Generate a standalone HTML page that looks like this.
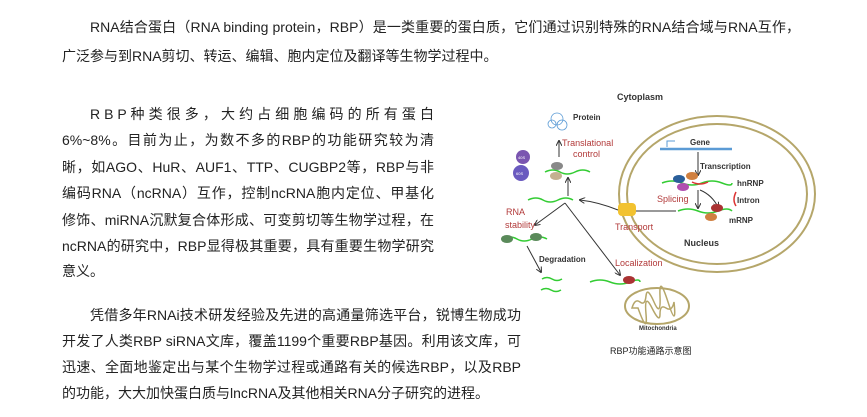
<!DOCTYPE html>
<html><head><meta charset="utf-8"><style>
body{margin:0;width:867px;height:417px;background:#fff;overflow:hidden;position:relative;font-family:"Liberation Sans","Noto Sans CJK SC",sans-serif;color:#222;}
.l{position:absolute;font-size:14px;white-space:nowrap;line-height:16px;}
.j{white-space:normal;text-align:justify;text-align-last:justify;height:16px;overflow:hidden}
svg{position:absolute;left:0;top:0}
</style></head><body>
<div class="l j" style="left:90px;top:19px;width:710px">RNA结合蛋白（RNA binding protein，RBP）是一类重要的蛋白质，它们通过识别特殊的RNA结合域与RNA互作，</div>
<div class="l" style="left:62px;top:48px">广泛参与到RNA剪切、转运、编辑、胞内定位及翻译等生物学过程中。</div>
<div class="l j" style="left:90px;top:106px;width:344px">R B P 种 类 很 多 ， 大 约 占 细 胞 编 码 的 所 有 蛋 白 的</div>
<div class="l j" style="left:62px;top:132px;width:372px">6%~8%。目前为止，为数不多的RBP的功能研究较为清</div>
<div class="l j" style="left:62px;top:159px;width:372px">晰，如AGO、HuR、AUF1、TTP、CUGBP2等，RBP与非</div>
<div class="l j" style="left:62px;top:185px;width:372px">编码RNA（ncRNA）互作，控制ncRNA胞内定位、甲基化</div>
<div class="l j" style="left:62px;top:212px;width:372px">修饰、miRNA沉默复合体形成、可变剪切等生物学过程，在</div>
<div class="l j" style="left:62px;top:238px;width:372px">ncRNA的研究中，RBP显得极其重要，具有重要生物学研究</div>
<div class="l" style="left:62px;top:263px">意义。</div>
<div class="l j" style="left:90px;top:307px;width:431px">凭借多年RNAi技术研发经验及先进的高通量筛选平台，锐博生物成功</div>
<div class="l j" style="left:62px;top:333px;width:459px">开发了人类RBP siRNA文库，覆盖1199个重要RBP基因。利用该文库，可</div>
<div class="l j" style="left:62px;top:359px;width:459px">迅速、全面地鉴定出与某个生物学过程或通路有关的候选RBP，以及RBP</div>
<div class="l" style="left:62px;top:385px">的功能，大大加快蛋白质与lncRNA及其他相关RNA分子研究的进程。</div>
<svg width="867" height="417" font-family="Liberation Sans, sans-serif">
<defs><marker id="a" markerWidth="6" markerHeight="6" refX="5" refY="3" orient="auto"><path d="M0,0L6,3L0,6" fill="none" stroke="#333" stroke-width="1"/></marker></defs>
<text x="617" y="100" font-size="9" font-weight="bold" fill="#333">Cytoplasm</text>
<ellipse cx="717" cy="194" rx="98" ry="78" fill="none" stroke="#b5a66a" stroke-width="2"/>
<ellipse cx="717" cy="194" rx="90" ry="70" fill="none" stroke="#b5a66a" stroke-width="2"/>
<text x="684" y="246" font-size="9" font-weight="bold" fill="#333">Nucleus</text>
<line x1="660" y1="149" x2="732" y2="149" stroke="#5b9bd5" stroke-width="2.5"/>
<path d="M667,147v-6h8" fill="none" stroke="#5b9bd5" stroke-width="1"/>
<text x="690" y="145" font-size="8" font-weight="bold" fill="#333">Gene</text>
<line x1="698" y1="152" x2="698" y2="175" stroke="#333" marker-end="url(#a)"/>
<text x="700" y="169" font-size="8" font-weight="bold" fill="#333">Transcription</text>
<path d="M662,183q10,-4 20,0t20,0t20,0t10,0" fill="none" stroke="#3c3" stroke-width="1.5"/>
<path d="M692,182q8,4 16,0" stroke="#d33" fill="none" stroke-width="1.5"/>
<ellipse cx="679" cy="179" rx="6" ry="4" fill="#2a5f9a"/><ellipse cx="692" cy="176" rx="6" ry="4" fill="#d08040"/><ellipse cx="683" cy="187" rx="6" ry="4" fill="#b050b0"/>
<text x="737" y="186" font-size="8" font-weight="bold" fill="#333">hnRNP</text>
<text x="657" y="202" font-size="9" fill="#b23a3a">Splicing</text>
<line x1="698" y1="190" x2="698" y2="208" stroke="#333" marker-end="url(#a)"/>
<path d="M700,190q12,5 18,17" fill="none" stroke="#333" marker-end="url(#a)"/>
<path d="M736,192q-4,8 0,14" stroke="#d33" fill="none" stroke-width="1.5"/>
<text x="737" y="203" font-size="8" font-weight="bold" fill="#333">Intron</text>
<path d="M678,211q10,-4 20,0t20,0t14,0" fill="none" stroke="#3c3" stroke-width="1.5"/>
<ellipse cx="717" cy="208" rx="6" ry="4" fill="#a33"/><ellipse cx="711" cy="217" rx="6" ry="4" fill="#d08040"/>
<text x="729" y="223" font-size="8" font-weight="bold" fill="#333">mRNP</text>
<rect x="618" y="203" width="18" height="13" rx="4" fill="#f2c230"/>
<line x1="636" y1="211" x2="676" y2="211" stroke="#333"/>
<text x="615" y="230" font-size="9" fill="#b23a3a">Transport</text>
<path d="M618,210q-20,-8 -38,-10" fill="none" stroke="#333" marker-end="url(#a)"/>
<path d="M528,200q8,-4 15,0t15,0t15,0" fill="none" stroke="#3c3" stroke-width="1.5"/>
<line x1="568" y1="196" x2="568" y2="178" stroke="#333" marker-end="url(#a)"/>
<path d="M545,172q8,-4 15,0t15,0t15,0" fill="none" stroke="#3c3" stroke-width="1.5"/>
<ellipse cx="557" cy="166" rx="6" ry="4" fill="#888"/><ellipse cx="556" cy="176" rx="6" ry="4" fill="#c4b090"/>
<line x1="559" y1="157" x2="559" y2="141" stroke="#333" marker-end="url(#a)"/>
<text x="562" y="146" font-size="9" fill="#b23a3a">Translational</text>
<text x="573" y="157" font-size="9" fill="#b23a3a">control</text>
<g stroke="#5b9bd5" fill="none" stroke-width="0.8"><circle cx="557" cy="119" r="6"/><circle cx="562" cy="125" r="5"/><circle cx="552" cy="124" r="4"/></g>
<text x="573" y="120" font-size="8" font-weight="bold" fill="#333">Protein</text>
<circle cx="523" cy="157" r="7" fill="#7a55b0"/><text x="518" y="159" font-size="4" fill="#fff">40S</text>
<circle cx="521" cy="173" r="8" fill="#6a5abf"/><text x="516" y="175" font-size="4" fill="#fff">60S</text>
<line x1="565" y1="203" x2="535" y2="225" stroke="#333" marker-end="url(#a)"/>
<line x1="565" y1="203" x2="620" y2="275" stroke="#333" marker-end="url(#a)"/>
<text x="506" y="215" font-size="9" fill="#b23a3a">RNA</text>
<text x="505" y="228" font-size="9" fill="#b23a3a">stability</text>
<path d="M502,239q8,-4 15,0t15,0t15,0" fill="none" stroke="#3c3" stroke-width="1.5"/>
<ellipse cx="507" cy="239" rx="6" ry="4" fill="#5a8a5a"/><ellipse cx="536" cy="237" rx="6" ry="4" fill="#5a8a5a"/>
<line x1="527" y1="246" x2="541" y2="272" stroke="#333" marker-end="url(#a)"/>
<text x="539" y="262" font-size="8" font-weight="bold" fill="#333">Degradation</text>
<path d="M542,279q5,-3 10,0t10,0M541,290q5,-3 10,0t10,0" fill="none" stroke="#3c3" stroke-width="1.5"/>
<text x="615" y="266" font-size="9" fill="#b23a3a">Localization</text>
<path d="M590,282q10,-4 20,0t20,0t10,0" fill="none" stroke="#3c3" stroke-width="1.5"/>
<ellipse cx="629" cy="280" rx="6" ry="4" fill="#a33"/>
<ellipse cx="657" cy="306" rx="32" ry="18" fill="none" stroke="#b5a66a" stroke-width="2"/>
<path d="M632,308q3,-10 8,-6t6,-6t8,6t6,-6t8,6t6,0q-2,10 -8,6t-6,6t-8,-6t-6,6t-8,-6z" fill="none" stroke="#b5a66a" stroke-width="1.5"/>
<text x="639" y="330" font-size="6" font-weight="bold" fill="#333">Mitochondria</text>
<text x="610" y="354" font-size="9" fill="#222" font-family="Liberation Sans, Noto Sans CJK SC, sans-serif">RBP功能通路示意图</text>
</svg>
</body></html>
